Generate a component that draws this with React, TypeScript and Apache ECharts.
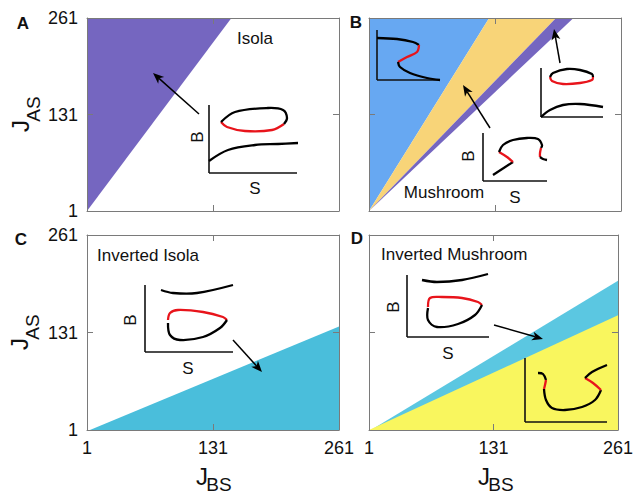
import React, { useEffect, useRef } from "react";
import * as echarts from "echarts";

// ---- data ----
const axisMin = 1;
const axisMax = 261;
const tickValues = [1, 131, 261];
const innerTicks = [131];

// region vertices [J_BS, J_AS]
const regionA_isola = [[1, 1], [150, 261], [1, 261]];
const regionB_blue = [[1, 1], [125, 261], [1, 261]];
const regionB_mushroom = [[1, 1], [194, 261], [125, 261]];
const regionB_isola = [[1, 1], [212, 261], [194, 261]];
const regionC_invIsola = [[4, 1], [261, 139], [261, 1]];
const regionD_invIsola = [[3, 1], [261, 200], [261, 1]];
const regionD_invMushroom = [[1, 1], [261, 154], [261, 1]];

const panelLetters = ["A", "B", "C", "D"];
const regionLabels = ["Isola", "Mushroom", "Inverted Isola", "Inverted Mushroom"];

const PURPLE = "#7566c0";
const BLUE = "#67a8f2";
const ORANGE = "#f8d478";
const CYAN_C = "#4abedb";
const CYAN_D = "#5bc7e1";
const YELLOW = "#f9f65e";
const FONT = "'Liberation Sans', Arial, Helvetica, sans-serif";

const grids = [
  { left: 87, top: 18, width: 252, height: 193 },
  { left: 369, top: 18, width: 252, height: 193 },
  { left: 87, top: 235, width: 252, height: 195 },
  { left: 369, top: 235, width: 253, height: 195 },
];

const panels = [
  { regions: [{ v: regionA_isola, c: PURPLE }], showX: false, showY: true },
  {
    regions: [
      { v: regionB_blue, c: BLUE },
      { v: regionB_mushroom, c: ORANGE },
      { v: regionB_isola, c: PURPLE },
    ],
    showX: false,
    showY: false,
  },
  { regions: [{ v: regionC_invIsola, c: CYAN_C }], showX: true, showY: true },
  {
    regions: [
      { v: regionD_invIsola, c: CYAN_D },
      { v: regionD_invMushroom, c: YELLOW },
    ],
    showX: true,
    showY: false,
  },
];

// ---- graphic helpers (schematic insets) ----
const ln = (x1: number, y1: number, x2: number, y2: number, w = 1.6, c = "#111") => ({
  type: "line",
  shape: { x1, y1, x2, y2 },
  style: { stroke: c, lineWidth: w },
  z: 50,
});
const crv = (pts: number[][], c = "#000") => ({
  type: "polyline",
  shape: { points: pts, smooth: 0.35 },
  style: { stroke: c, lineWidth: 2.3, fill: null },
  z: 51,
});
const arrow = (x1: number, y1: number, x2: number, y2: number) => {
  const dx = x2 - x1, dy = y2 - y1;
  const L = Math.sqrt(dx * dx + dy * dy);
  const ux = dx / L, uy = dy / L;
  const hl = 11, hw = 4.5;
  const bx = x2 - ux * hl, by = y2 - uy * hl;
  const nx = x2 - ux * 8, ny = y2 - uy * 8;
  return [
    ln(x1, y1, nx, ny, 1.5, "#000"),
    {
      type: "polygon",
      shape: { points: [[x2, y2], [bx - uy * hw, by + ux * hw], [nx, ny], [bx + uy * hw, by - ux * hw]] },
      style: { fill: "#000" },
      z: 52,
    },
  ];
};
const txt = (text: string, x: number, y: number, size: number, opts: any = {}) => ({
  type: "text",
  x,
  y,
  rotation: opts.rotation || 0,
  style: {
    text,
    fontSize: size,
    fontFamily: FONT,
    fontWeight: opts.bold ? "bold" : "normal",
    fill: "#111",
    align: opts.align || "center",
    verticalAlign: "middle",
  },
  z: 60,
});
const R = "#e8141b";
const K = "#000";

function buildGraphics() {
  const g: any[] = [];
  // panel letters
  g.push(txt(panelLetters[0], 23, 23, 17, { bold: true }));
  g.push(txt(panelLetters[1], 356, 22, 17, { bold: true }));
  g.push(txt(panelLetters[2], 21, 239, 17, { bold: true }));
  g.push(txt(panelLetters[3], 357, 238, 17, { bold: true }));
  // region labels
  g.push(txt(regionLabels[0], 237, 38, 17, { align: "left" }));
  g.push(txt(regionLabels[1], 444, 192, 17));
  g.push(txt(regionLabels[2], 97, 255, 17, { align: "left" }));
  g.push(txt(regionLabels[3], 381, 254, 17, { align: "left" }));
  // axis titles
  const up = Math.PI / 2;
  g.push(txt("J", 20, 126, 24, { rotation: up }));
  g.push(txt("AS", 33, 109, 19, { rotation: up }));
  g.push(txt("J", 19, 344, 24, { rotation: up }));
  g.push(txt("AS", 32, 327, 19, { rotation: up }));
  g.push(txt("J", 202, 476, 24));
  g.push(txt("BS", 219, 484, 19));
  g.push(txt("J", 484, 476, 24));
  g.push(txt("BS", 501, 484, 19));

  // Inset A
  g.push(ln(209, 105, 209, 173), ln(209, 173, 297, 173));
  g.push(txt("B", 197, 137, 17, { rotation: up }), txt("S", 255, 188, 17));
  g.push(crv([[209, 161], [228, 150], [255, 145], [278, 144], [298, 143]], K));
  g.push(crv([[221, 122], [227, 127], [245, 131], [272, 130], [284, 124]], R));
  g.push(crv([[221, 122], [235, 112], [268, 108], [283, 110], [287, 118], [284, 124]], K));
  g.push(...arrow(199, 114, 153, 73));

  // Inset B1 (blue region)
  g.push(ln(377, 30, 377, 80), ln(377, 80, 440, 80));
  g.push(crv([[377, 38], [397, 39], [413, 42], [419, 45]], K));
  g.push(crv([[419, 45], [417, 52], [407, 57], [398, 62]], R));
  g.push(crv([[398, 62], [400, 67], [410, 73], [427, 78], [440, 80]], K));

  // Inset B2 (isola)
  g.push(ln(541, 68, 541, 117), ln(541, 117, 603, 117));
  g.push(crv([[550, 77], [552, 81], [563, 84], [580, 83], [592, 80], [593, 77]], R));
  g.push(crv([[550, 77], [553, 73], [567, 69], [580, 70], [592, 74], [593, 77]], K));
  g.push(crv([[541, 117], [550, 110], [563, 105], [580, 104], [603, 107]], K));
  g.push(...arrow(560, 63, 554, 29));

  // Inset B3 (mushroom)
  g.push(ln(483, 133, 483, 181), ln(483, 181, 547, 181));
  g.push(txt("B", 468, 156, 17, { rotation: up }), txt("S", 515, 197, 17));
  g.push(crv([[493, 175], [513, 162]], K));
  g.push(crv([[513, 162], [507, 157], [499, 152]], R));
  g.push(crv([[499, 152], [503, 145], [513, 140], [527, 138], [538, 139], [542, 145], [541, 148]], K));
  g.push(crv([[541, 148], [540, 153], [540, 157]], R));
  g.push(crv([[540, 157], [543, 159], [547, 160]], K));
  g.push(...arrow(490, 128, 463, 85));

  // Inset C
  g.push(ln(145, 285, 145, 352), ln(145, 352, 233, 352));
  g.push(txt("B", 130, 320, 17, { rotation: up }), txt("S", 188, 368, 17));
  g.push(crv([[161, 290], [173, 293], [197, 293], [233, 285]], K));
  g.push(crv([[168, 320], [170, 313], [178, 310], [203, 312], [223, 317], [227, 320]], R));
  g.push(crv([[227, 320], [220, 328], [203, 337], [180, 340], [170, 335], [168, 323]], K));
  g.push(...arrow(233, 340, 262, 372));

  // Inset D1
  g.push(ln(407, 275, 407, 337), ln(407, 337, 489, 337));
  g.push(txt("B", 393, 307, 17, { rotation: up }), txt("S", 448, 353, 17));
  g.push(crv([[422, 280], [437, 282], [462, 280], [488, 274]], K));
  g.push(crv([[428, 307], [430, 298], [442, 297], [462, 298], [478, 302], [482, 305]], R));
  g.push(crv([[482, 305], [475, 315], [458, 324], [437, 327], [428, 320], [428, 308]], K));
  g.push(...arrow(494, 325, 543, 339));

  // Inset D2
  g.push(ln(525, 358, 525, 422), ln(525, 422, 607, 422));
  g.push(crv([[538, 373], [543, 374], [546, 380]], K));
  g.push(crv([[546, 380], [545, 385], [544, 389]], R));
  g.push(crv([[544, 389], [546, 400], [552, 408], [565, 410], [582, 407], [595, 400], [601, 390]], K));
  g.push(crv([[601, 390], [593, 383], [585, 378]], R));
  g.push(crv([[585, 378], [592, 372], [607, 365]], K));
  return g;
}

function buildOption() {
  const frame = { color: "#7a7a7a", width: 1 };
  const xAxis: any[] = [];
  const yAxis: any[] = [];
  const series: any[] = [];
  const label = (show: boolean) => ({
    show,
    customValues: tickValues,
    fontSize: 18,
    fontFamily: FONT,
    color: "#111",
    margin: 9,
  });
  panels.forEach((p, i) => {
    xAxis.push(
      {
        gridIndex: i, type: "value", min: axisMin, max: axisMax, position: "bottom", z: 10,
        axisLine: { show: true, onZero: false, lineStyle: frame },
        axisTick: { show: true, inside: true, length: 6, customValues: innerTicks, lineStyle: frame },
        axisLabel: label(p.showX),
        splitLine: { show: false },
      },
      {
        gridIndex: i, type: "value", min: axisMin, max: axisMax, position: "top", z: 10,
        axisLine: { show: true, onZero: false, lineStyle: frame },
        axisTick: { show: true, inside: true, length: 6, customValues: innerTicks, lineStyle: frame },
        axisLabel: { show: false },
        splitLine: { show: false },
      }
    );
    yAxis.push(
      {
        gridIndex: i, type: "value", min: axisMin, max: axisMax, position: "left", z: 10,
        axisLine: { show: true, onZero: false, lineStyle: frame },
        axisTick: { show: true, inside: true, length: 6, customValues: innerTicks, lineStyle: frame },
        axisLabel: label(p.showY),
        splitLine: { show: false },
      },
      {
        gridIndex: i, type: "value", min: axisMin, max: axisMax, position: "right", z: 10,
        axisLine: { show: true, onZero: false, lineStyle: frame },
        axisTick: { show: true, inside: true, length: 6, customValues: innerTicks, lineStyle: frame },
        axisLabel: { show: false },
        splitLine: { show: false },
      }
    );
    p.regions.forEach((r) => {
      series.push({
        type: "custom",
        xAxisIndex: 2 * i,
        yAxisIndex: 2 * i,
        silent: true,
        z: 1,
        data: r.v,
        renderItem: (params: any, api: any) => {
          if (params.dataIndex !== 0) return null;
          return {
            type: "polygon",
            shape: { points: r.v.map((pt) => api.coord(pt)) },
            style: { fill: r.c, stroke: null },
          };
        },
      });
    });
  });
  return {
    animation: false,
    backgroundColor: "#ffffff",
    grid: grids.map((g) => ({ ...g, show: false })),
    xAxis,
    yAxis,
    series,
    graphic: { elements: buildGraphics() },
  };
}

export default function App() {
  const ref = useRef<HTMLDivElement>(null);
  useEffect(() => {
    if (!ref.current) return;
    const chart = echarts.init(ref.current, null, { renderer: "svg" });
    chart.setOption(buildOption() as any);
    return () => chart.dispose();
  }, []);
  return (
    <div
      ref={ref}
      style={{ position: "fixed", left: 0, top: 0, width: 636, height: 494 }}
    />
  );
}
